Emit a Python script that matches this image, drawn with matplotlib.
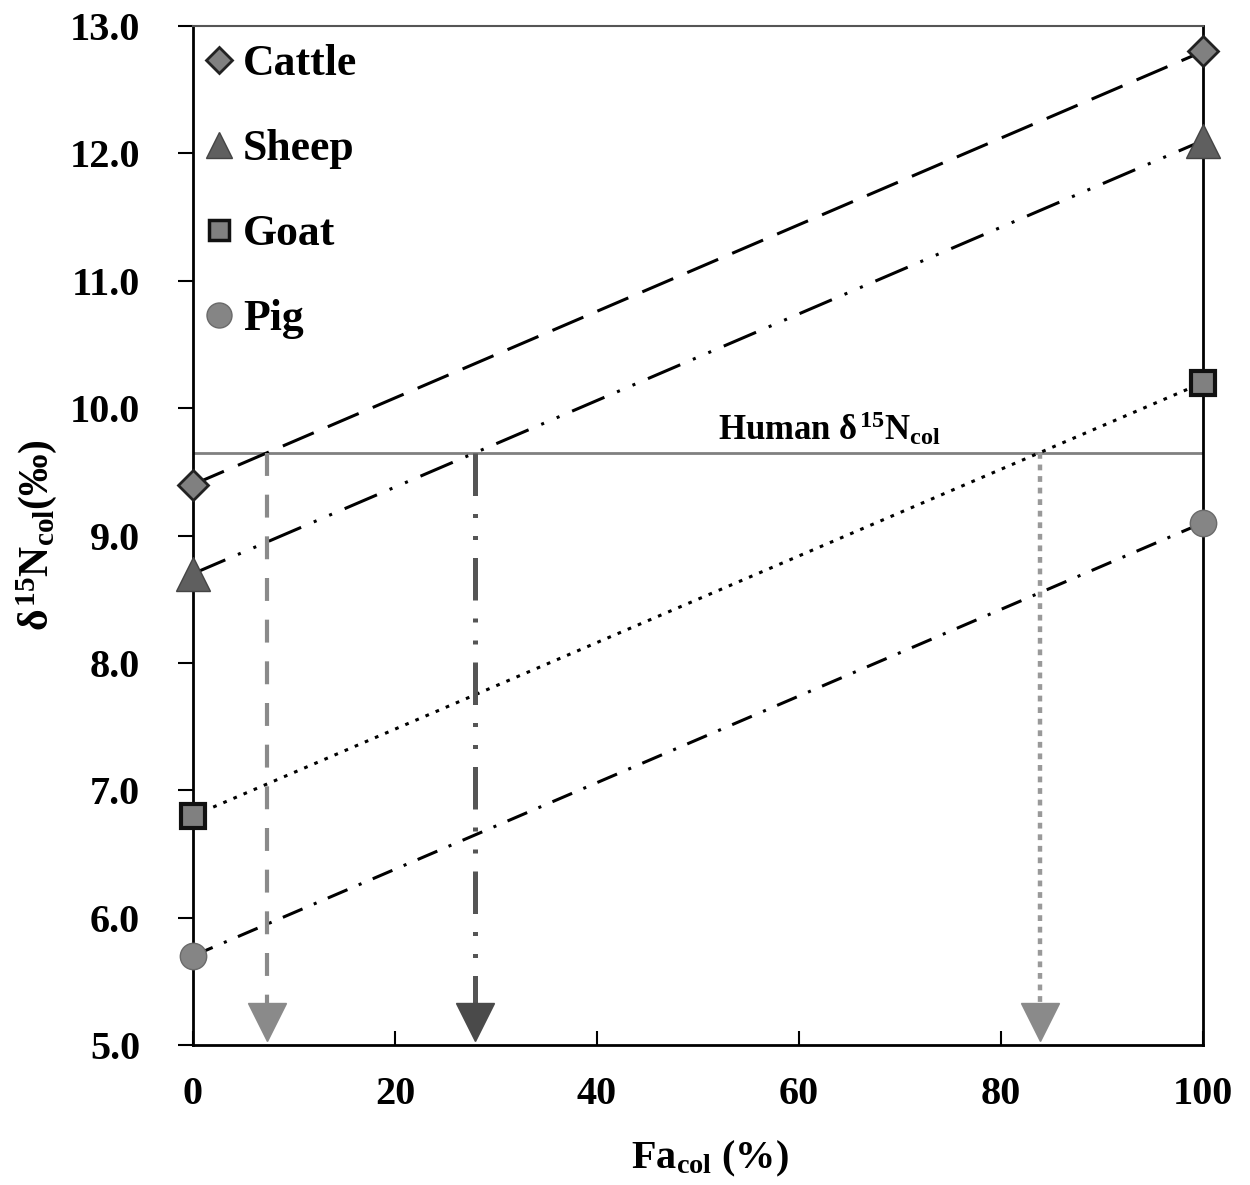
import numpy as np
import matplotlib.pyplot as plt
from matplotlib.lines import Line2D

plt.rcParams['font.family'] = ['Liberation Serif', 'DejaVu Serif']
plt.rcParams['font.weight'] = 'bold'
plt.rcParams['mathtext.fontset'] = 'custom'
plt.rcParams['mathtext.rm'] = 'Liberation Serif:bold'
plt.rcParams['mathtext.it'] = 'Liberation Serif:bold'
plt.rcParams['mathtext.bf'] = 'Liberation Serif:bold'

# data
fa = [0, 100]
species = ['Cattle', 'Sheep', 'Goat', 'Pig']
d15n = {
    'Cattle': [9.4, 12.8],
    'Sheep': [8.7, 12.1],
    'Goat': [6.8, 10.2],
    'Pig': [5.7, 9.1],
}
human = 9.65
xticks = [0, 20, 40, 60, 80, 100]
yticks = [5.0, 6.0, 7.0, 8.0, 9.0, 10.0, 11.0, 12.0, 13.0]

# styles
line_dash = {
    'Cattle': (11, 5),
    'Sheep': (11.5, 4.5, 1, 4.5, 1, 4.5),
    'Goat': (1.2, 2.4),
    'Pig': (7, 4, 1, 4),
}
mk = {
    'Cattle': dict(marker='D', ms=15.5, mfc='#808080', mec='#222222', mew=2),
    'Sheep': dict(marker='^', ms=25, mfc='#5f5f5f', mec='#444444', mew=1),
    'Goat': dict(marker='s', ms=17, mfc='#808080', mec='#111111', mew=3),
    'Pig': dict(marker='o', ms=19, mfc='#858585', mec='#6a6a6a', mew=1),
}
leg_mk = {
    'Cattle': dict(marker='D', ms=13, mfc='#808080', mec='#222222', mew=2),
    'Sheep': dict(marker='^', ms=19, mfc='#5f5f5f', mec='#444444', mew=1),
    'Goat': dict(marker='s', ms=15, mfc='#808080', mec='#111111', mew=2.5),
    'Pig': dict(marker='o', ms=18, mfc='#858585', mec='#6a6a6a', mew=1),
}
arrow_sty = {
    'Cattle': dict(color='#8a8a8a', lw=3, dashes=(5.5, 4.5)),
    'Sheep': dict(color='#555555', lw=3.6, dashes=(8.5, 3.6, 0.8, 3.6, 0.8, 3.6)),
    'Goat': dict(color='#999999', lw=3.2, dashes=(1.3, 1.3)),
}
head_col = {'Cattle': '#8a8a8a', 'Sheep': '#4a4a4a', 'Goat': '#8a8a8a'}

fig = plt.figure(figsize=(12.5, 11.85), dpi=100)
ax = fig.add_axes([0.1544, 0.1181, 0.808, 0.86])

ax.axhline(human, color='#808080', lw=2, zorder=1)
ax.text(63, human + 0.04, r'Human $\delta^{15}$N$_{\rm col}$', ha='center', va='bottom',
        fontsize=25, fontweight='bold')

for sp in species:
    ax.plot(fa, d15n[sp], color='black', lw=2.2, dashes=line_dash[sp], zorder=2)
    ax.plot(fa, d15n[sp], ls='none', clip_on=False, zorder=6, **mk[sp])

for sp in ['Cattle', 'Sheep', 'Goat']:
    a, b = d15n[sp]
    xi = (human - a) / (b - a) * 100
    ax.plot([xi, xi], [human, 5.3], zorder=3, **arrow_sty[sp])
    ax.plot([xi], [5.18], marker='v', ms=27, color=head_col[sp], mec=head_col[sp],
            ls='none', zorder=4)

ax.set_xlim(0, 100)
ax.set_ylim(5, 13)
ax.set_xticks(xticks)
ax.set_yticks(yticks)
ax.set_yticklabels([f'{v:.1f}' for v in yticks])
ax.tick_params(axis='x', direction='in', length=10, width=1.5, labelsize=29, pad=22)
ax.tick_params(axis='y', direction='out', length=11, width=1.5, labelsize=29, pad=27)
for lab in ax.get_xticklabels() + ax.get_yticklabels():
    lab.set_fontweight('bold')

for s in ['left', 'right', 'bottom']:
    ax.spines[s].set_linewidth(2)
    ax.spines[s].set_color('black')
ax.spines['top'].set_linewidth(1.5)
ax.spines['top'].set_color('#555555')

ax.set_xlabel(r'Fa$_{\rm col}$ (%)', fontsize=29, fontweight='bold')
ax.set_ylabel(r'$\delta^{15}$N$_{\rm col}$(‰)', fontsize=30, fontweight='bold', labelpad=8)
ax.xaxis.set_label_coords(0.512, -0.092)

handles = [Line2D([], [], ls='none', **leg_mk[sp]) for sp in species]
ax.legend(handles, species, loc='upper left', bbox_to_anchor=(-0.009, 0.995), frameon=False,
          handlelength=1.0, handletextpad=0.05, borderaxespad=0, borderpad=0.3,
          labelspacing=1.03, prop=dict(family='Liberation Serif', weight='bold', size=31.5))

fig.savefig('out.png', dpi=100)
